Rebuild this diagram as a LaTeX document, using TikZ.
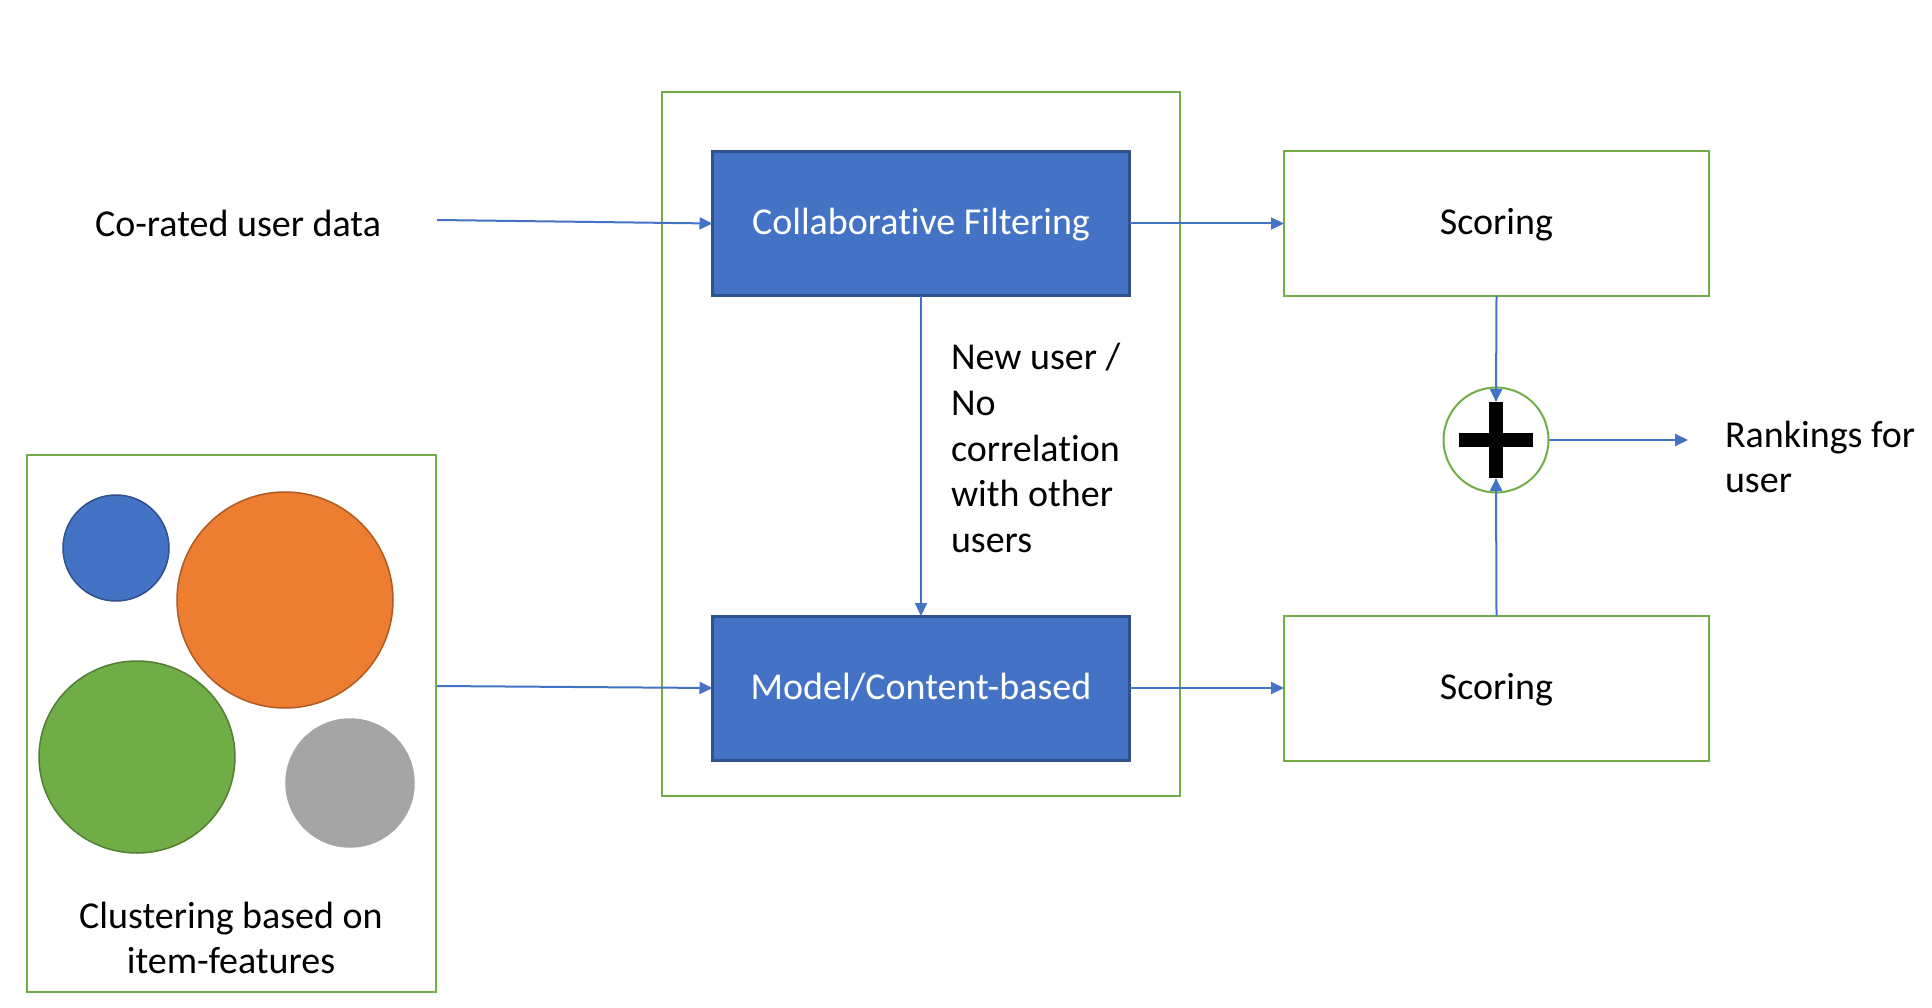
\documentclass[tikz,border=0pt]{standalone}
\usepackage{fontspec}
\setmainfont{Carlito}[Ligatures=NoCommon]
\usetikzlibrary{arrows.meta}
\definecolor{cfblue}{HTML}{4472C4}
\definecolor{cfblueD}{HTML}{2F528F}
\definecolor{cfgreen}{HTML}{70AD47}
\definecolor{cfgreenD}{HTML}{507E32}
\definecolor{cforange}{HTML}{ED7D31}
\definecolor{cforangeD}{HTML}{AE5A21}
\definecolor{cfgray}{HTML}{A5A5A5}
\tikzset{
  bluebox/.style={draw=cfblueD, line width=3pt, fill=cfblue, text=white, minimum width=417pt, minimum height=144pt, inner sep=0pt, outer sep=0pt, text height=30pt, text depth=7.5pt},
  scorebox/.style={draw=cfgreen, line width=2pt, fill=white, minimum width=425pt, minimum height=145pt, inner sep=0pt, outer sep=0pt, text height=30pt, text depth=7.5pt},
  frame/.style={draw=cfgreen, line width=2pt, inner sep=0pt, outer sep=0pt},
  conn/.style={draw=cfblue, line width=2pt, -{Triangle[length=13pt,width=12pt]}},
  plain/.style={inner sep=0pt, outer sep=0pt},
  bar/.style={fill=black, inner sep=0pt, outer sep=0pt}
}
\begin{document}
\begin{tikzpicture}[x=1pt,y=-1pt, font=\fontsize{38pt}{45.6pt}\selectfont]
\useasboundingbox (0,0) rectangle (1932,1008);
% frames
\node[frame, minimum width=518pt, minimum height=704pt] (outer) at (921,444) {};
\node[frame, minimum width=409pt, minimum height=537pt] (left) at (231.5,723.5) {};
% blue boxes
\node[bluebox] (cf) at (921,223.5) {Collaborative Filtering};
\node[bluebox] (cb) at (921,688) {Model/Content-based};
% scoring boxes
\node[scorebox] (s1) at (1496.5,223.5) {Scoring};
\node[scorebox] (s2) at (1496.5,688) {Scoring};
% plus
\node[draw=cfgreen, line width=2pt, circle, minimum size=105pt, inner sep=0pt, outer sep=0pt] (plus) at (1496,440) {};
\node[bar, minimum width=14pt, minimum height=76pt] (pv) at (1496,440) {};
\node[bar, minimum width=74pt, minimum height=14pt] (ph) at (1496,440) {};
% texts
\node[plain] (corated) at (238,223) {Co-rated user data};
\node[plain, anchor=west, align=left] (rank) at (1725,457) {Rankings for\\user};
\node[plain, anchor=west, align=left] (newuser) at (951,448) {New user /\\No\\correlation\\with other\\users};
\node[plain, align=center] (clus) at (231,938) {Clustering based on\\item-features};
% cluster circles
\draw[fill=cfblue, draw=cfblueD, line width=1.5pt] (116,548) ellipse (53pt and 53pt);
\draw[fill=cforange, draw=cforangeD, line width=1.5pt] (285,600) ellipse (108pt and 108pt);
\draw[fill=cfgreen, draw=cfgreenD, line width=1.5pt] (137,757) ellipse (98pt and 96pt);
\draw[fill=cfgray, draw=cfgray, line width=1.5pt] (350,783) ellipse (64pt and 64pt);
% connectors
\coordinate (coratedEnd) at (437,220);
\coordinate (clusEnd) at (437,686);
\coordinate (rankEnd) at (1688,440);
\draw[conn] (coratedEnd) -- (cf.west);
\draw[conn] (clusEnd) -- (cb.west);
\draw[conn] (cf.south) -- (cb.north);
\draw[conn] (cf.east) -- (s1.west);
\draw[conn] (cb.east) -- (s2.west);
\draw[conn] (s1.south) -- (pv.north);
\draw[conn] (s2.north) -- (pv.south);
\draw[conn] (plus.east) -- (rankEnd);
\end{tikzpicture}
\end{document}
